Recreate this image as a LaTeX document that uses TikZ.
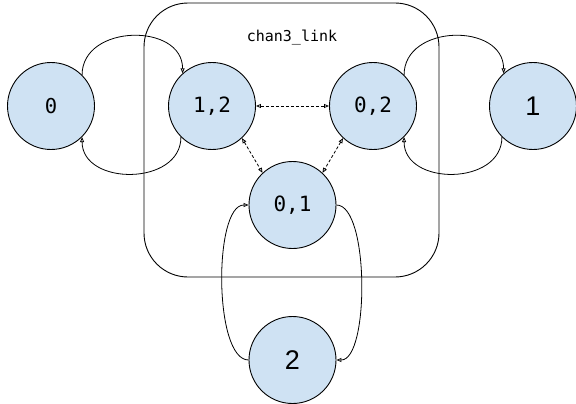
\documentclass[tikz,border=0pt]{standalone}
\usepackage{fontspec}
\setmainfont{Liberation Sans}
\newfontfamily\monof{DejaVu Sans Mono}
\usetikzlibrary{arrows.meta}
\definecolor{nodefill}{HTML}{CFE2F3}
\tikzset{
  state/.style={circle, draw=black, line width=0.9pt, fill=nodefill, minimum size=87pt, inner sep=0pt},
  monolbl/.style={font=\monof\fontsize{21}{24}\selectfont},
  biglbl/.style={font=\fontsize{27}{30}\selectfont},
  trans/.style={line width=0.8pt, -{Triangle[open, length=5pt, width=4pt]}},
  link/.style={line width=0.8pt, dashed, dash pattern=on 3pt off 2pt, {Triangle[open, length=5pt, width=4pt]}-{Triangle[open, length=5pt, width=4pt]}},
  container/.style={draw=black, line width=0.9pt, rounded corners=44pt}
}
\begin{document}
\begin{tikzpicture}[x=1pt,y=1pt]
\useasboundingbox (0,0) rectangle (576,-404);
\draw[container] (144,-3) rectangle (439,-277);
\node[font=\monof\fontsize{15}{18}\selectfont] (lbl) at (292,-38) {chan3\_link};
\node[state, monolbl, font=\monof\fontsize{20.5}{24}\selectfont] (n0) at (51,-106) {0};
\node[state, monolbl] (n12) at (212,-106) {1,2};
\node[state, monolbl] (n02) at (373,-106) {0,2};
\node[state, biglbl] (n1) at (533,-106) {1};
\node[state, monolbl] (n01) at (292.5,-205) {0,1};
\node[state, biglbl] (n2) at (292.5,-360) {2};
% outer transitions
\draw[trans] (n0.45) .. controls +(0,51) and +(0,51) .. (n12.132);
\draw[trans] (n12.225) .. controls +(0,-49) and +(0,-49) .. (n0.-45);
\draw[trans] (n02.45) .. controls +(0,51) and +(0,51) .. (n1.132);
\draw[trans] (n1.225) .. controls +(0,-49) and +(0,-49) .. (n02.-45);
\draw[trans] (n2.west) .. controls +(-35,0) and +(-35,0) .. (n01.west);
\draw[trans] (n01.east) .. controls +(33,0) and +(33,0) .. (n2.east);
% internal links
\draw[link] (n12.east) -- (n02.west);
\draw[link] (n12.-47) -- (n01.133);
\draw[link] (n02.227) -- (n01.47);
\end{tikzpicture}
\end{document}
